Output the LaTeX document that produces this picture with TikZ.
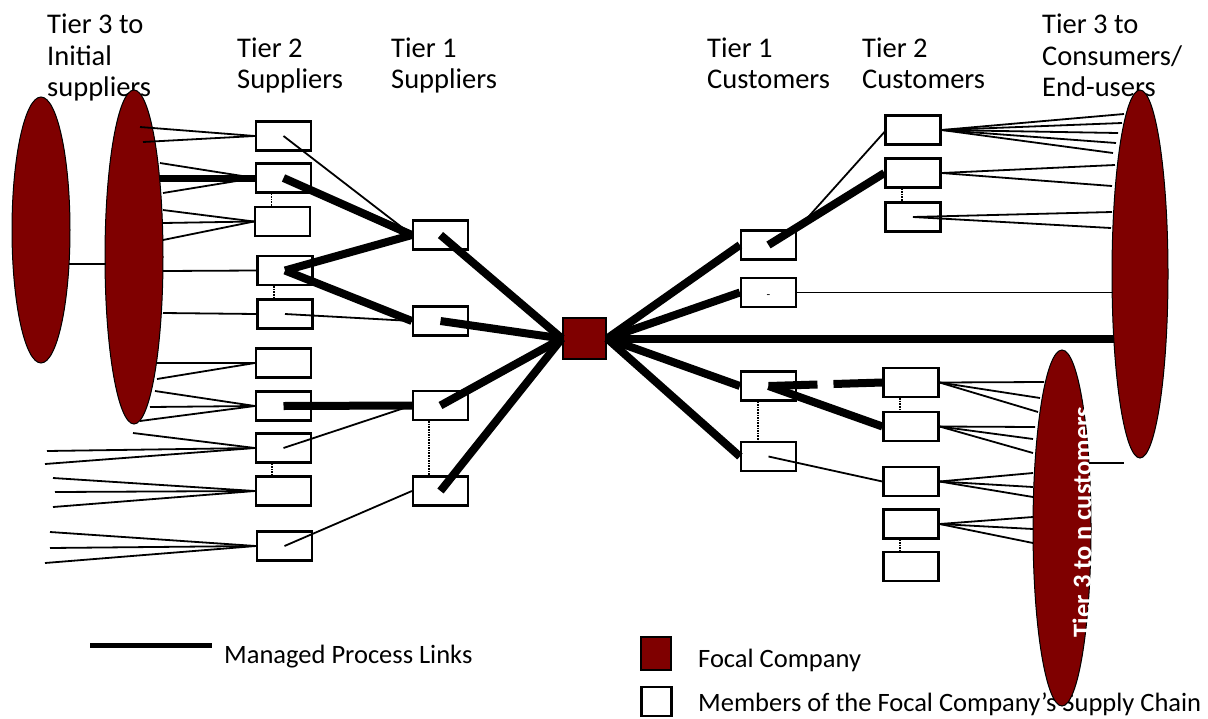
\documentclass[tikz,border=0pt]{standalone}
\usepackage{fontspec}
\setmainfont{Carlito}
\usetikzlibrary{shapes.geometric}
\definecolor{focalred}{RGB}{127,0,0}
\newcommand\fanin[3][thinlink]{\foreach \px/\py [count=\k] in {#3} {\coordinate (#2-f\k) at (\px,\py); \draw[#1] (#2-f\k) -- (#2.west);}}
\newcommand\fanout[3][east]{\foreach \px/\py [count=\k] in {#3} {\coordinate (#2-g\k) at (\px,\py); \draw[thinlink] (#2.#1) -- (#2-g\k);}}
\begin{document}
\begin{tikzpicture}[x=1pt,y=-1pt,
  member/.style={draw, line width=2.2pt, fill=white, minimum width=55pt, minimum height=29pt, inner sep=0pt},
  tierthree/.style={ellipse, draw, line width=1pt, fill=focalred, inner sep=0pt},
  thinlink/.style={line width=1.8pt},
  managed/.style={line width=8pt},
  sibling/.style={line width=1.6pt, densely dotted},
  head/.style={anchor=base west, inner sep=0pt, font=\fontsize{28.5}{32}\selectfont},
  legendtext/.style={anchor=base west, inner sep=0pt, font=\fontsize{26.5}{30}\selectfont}]
\useasboundingbox (0,0) rectangle (1208,718);
\fill[white] (0,0) rectangle (1208,718);

% headers
\node[head] (h1a) at (47,33) {Tier 3 to};
\node[head] (h1b) at (47,65) {Initial};
\node[head] (h1c) at (47,96) {suppliers};
\node[head] (h2a) at (237,57) {Tier 2};
\node[head] (h2b) at (237,88) {Suppliers};
\node[head] (h3a) at (391,57) {Tier 1};
\node[head] (h3b) at (391,88) {Suppliers};
\node[head] (h4a) at (707,57) {Tier 1};
\node[head] (h4b) at (707,88) {Customers};
\node[head] (h5a) at (862,57) {Tier 2};
\node[head] (h5b) at (862,88) {Customers};
\node[head] (h6a) at (1042,33) {Tier 3 to};
\node[head] (h6b) at (1042,65) {Consumers/};
\node[head] (h6c) at (1042,96) {End-users};

% legend
\coordinate (lg1) at (90,645);
\coordinate (lg2) at (212,645);
\draw[line width=5pt] (lg1) -- (lg2);
\node[legendtext] (lgt1) at (224,663) {Managed Process Links};
\node[member, fill=focalred, minimum width=30pt, minimum height=33pt] (lgred) at (656,653.5) {};
\node[member, minimum width=30pt, minimum height=29pt] (lgwhite) at (656.5,701.5) {};
\node[legendtext] (lgt2) at (698,667) {Focal Company};
\node[legendtext] (lgt3) at (698,711) {Members of the Focal Company’s Supply Chain};

% tier 3 ellipses
\node[tierthree, minimum width=58pt, minimum height=266pt] (e1) at (41,230) {};
\node[tierthree, minimum width=58pt, minimum height=334pt] (e2) at (134,257) {};
\node[tierthree, minimum width=56pt, minimum height=368pt] (e3) at (1140,274) {};
\node[tierthree, minimum width=58pt, minimum height=356pt] (e4) at (1062,528) {};
\node[rotate=90, text=white, font=\bfseries\fontsize{26.5}{28}\selectfont, inner sep=0pt] (e4t) at (1082,522) {Tier 3 to n customers};

% tier 2 suppliers
\node[member] (s21) at (283.5,136) {};
\node[member] (s22) at (283.5,178) {};
\node[member] (s23) at (282.5,221.5) {};
\node[member] (s24) at (285,270.5) {};
\node[member] (s25) at (285,314) {};
\node[member] (s26) at (283.5,363) {};
\node[member] (s27) at (283.5,406) {};
\node[member] (s28) at (283.5,448) {};
\node[member] (s29) at (283.5,491) {};
\node[member] (s210) at (284.5,546) {};
% tier 1 suppliers
\node[member] (s11) at (440.5,235) {};
\node[member] (s12) at (440.5,321) {};
\node[member] (s13) at (440.5,405.5) {};
\node[member] (s14) at (440.5,491) {};
% focal
\node[member, fill=focalred, minimum width=43pt, minimum height=41pt] (focal) at (584.5,338.5) {};
% tier 1 customers
\node[member] (c11) at (768.5,245) {};
\node[member] (c12) at (768.5,292.5) {};
\node[font=\fontsize{12}{12}\selectfont, inner sep=0pt] (c12d) at ([yshift=-4pt]c12.center) {-};
\node[member] (c13) at (768.5,386) {};
\node[member] (c14) at (768.5,456.5) {};
% tier 2 customers
\node[member] (c21) at (913,130) {};
\node[member] (c22) at (913,173) {};
\node[member] (c23) at (913,217) {};
\node[member] (c24) at (911,382.5) {};
\node[member] (c25) at (911,426.5) {};
\node[member] (c26) at (911,481.5) {};
\node[member] (c27) at (911,524) {};
\node[member] (c28) at (911,566.5) {};

% sibling dotted links
\draw[sibling] ([xshift=-12pt]s22.south) -- ([xshift=-11pt]s23.north);
\draw[sibling] ([xshift=-11pt]s24.south) -- ([xshift=-11pt]s25.north);
\draw[sibling] ([xshift=-11.5pt]s28.south) -- ([xshift=-11.5pt]s29.north);
\draw[sibling] ([xshift=-11.5pt]s13.south) -- ([xshift=-11.5pt]s14.north);
\draw[sibling] ([xshift=-10.5pt]c13.south) -- ([xshift=-10.5pt]c14.north);
\draw[sibling] ([xshift=-11pt]c22.south) -- ([xshift=-11pt]c23.north);
\draw[sibling] ([xshift=-11pt]c24.south) -- ([xshift=-11pt]c25.north);
\draw[sibling] ([xshift=-11pt]c27.south) -- ([xshift=-11pt]c28.north);

% tier 3 left link
\coordinate (e1r) at (69,264);
\coordinate (e2l) at (106,264);
\draw[thinlink] (e1r) -- (e2l);

% left fans
\fanin{s21}{140/127, 143/142}
\fanin{s22}{160/163, 163/193}
\coordinate (s22-t) at (160,178);
\draw[line width=7pt] (s22-t) -- (s22.west);
\fanin{s23}{163/210, 163/223, 163/240}
\fanin{s24}{163/271}
\fanin{s25}{163/313}
\fanin{s26}{157/363, 157/379}
\fanin{s27}{155/391, 150/407, 140/421}
\fanin{s28}{133/433, 47/451, 45/464}
\fanin{s29}{53/478, 55/492, 53/507}
\fanin{s210}{50/532, 50/548, 45/563}

% tier 2 -> tier 1 suppliers
\draw[thinlink] (s21.center) -- (s11.west);
\draw[managed] (s22.center) -- (s11.west);
\draw[managed] (s24.center) -- (s11.west);
\draw[managed] (s24.center) -- (s12.west);
\draw[thinlink] (s25.center) -- (s12.west);
\draw[managed] (s27.center) -- (s13.west);
\draw[thinlink] (s28.center) -- (s13.west);
\draw[thinlink] (s210.center) -- (s14.west);

% tier 1 suppliers -> focal
\foreach \s in {s11,s12,s13,s14} \draw[managed] (\s.center) -- (focal.west);

% focal -> customers
\foreach \c in {c11,c12,c13,c14} \draw[managed] (focal.east) -- (\c.west);
\coordinate (r0) at (1114,338.5);
\draw[managed] (focal.east) -- (r0);
\coordinate (r1) at (1113,292.5);
\draw[thinlink] (c12.east) -- (r1);

% tier 1 -> tier 2 customers
\draw[thinlink] (c11.north east) -- ([yshift=-2pt]c21.west);
\draw[managed] (c11.center) -- (c22.west);
\draw[managed, dash pattern=on 49pt off 16pt] (c13.center) -- (c24.west);
\draw[managed] (c13.center) -- (c25.west);
\draw[thinlink] (c14.center) -- (c26.west);

% right fans
\fanout{c21}{1124/114, 1122/123, 1118/133, 1116/143, 1113/153}
\fanout{c22}{1115/165, 1112/186}
\fanout[center]{c23}{1112/212, 1111/228}
\fanout{c24}{1044/382, 1040/398, 1038/412}
\fanout{c25}{1035/427, 1033/439, 1033/453}
\fanout{c26}{1033/473, 1033/487, 1033/497}
\fanout{c27}{1033/517, 1033/529, 1033/543}

% small link right of tier-3-to-n ellipse
\coordinate (e4r) at (1089,463);
\coordinate (e4x) at (1124,463);
\draw[thinlink] (e4r) -- (e4x);
\end{tikzpicture}
\end{document}
